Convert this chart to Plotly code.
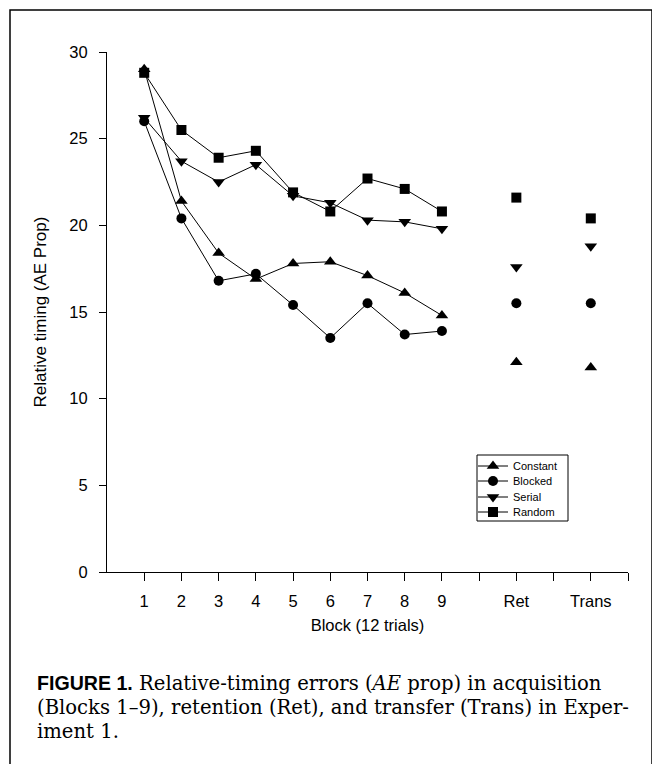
import plotly.graph_objects as go

# ---- data ----
blocks = [1, 2, 3, 4, 5, 6, 7, 8, 9]
test_labels = ["Ret", "Trans"]
test_positions = [11, 13]          # axis slots used for Ret and Trans

constant_acq = [29.0, 21.4, 18.4, 16.9, 17.8, 17.9, 17.1, 16.1, 14.8]
constant_test = [12.1, 11.8]
blocked_acq = [26.0, 20.4, 16.8, 17.2, 15.4, 13.5, 15.5, 13.7, 13.9]
blocked_test = [15.5, 15.5]
serial_acq = [26.2, 23.7, 22.5, 23.5, 21.7, 21.3, 20.3, 20.2, 19.8]
serial_test = [17.6, 18.8]
random_acq = [28.8, 25.5, 23.9, 24.3, 21.9, 20.8, 22.7, 22.1, 20.8]
random_test = [21.6, 20.4]

series_names = ["Constant", "Blocked", "Serial", "Random"]
symbols = ["triangle-up", "circle", "triangle-down", "square"]
acq_values = [constant_acq, blocked_acq, serial_acq, random_acq]
test_values = [constant_test, blocked_test, serial_test, random_test]

tick_vals = list(range(1, 15))
tick_text = [str(b) for b in blocks] + ["", test_labels[0], "", test_labels[1], ""]
y_ticks = [0, 5, 10, 15, 20, 25, 30]

# ---- geometry (page has an 8px body margin) ----
OFF = 8
W, H = 660 - OFF, 764 - OFF
L, R = 107 - OFF, 628 - OFF
T, B = 52 - OFF, 572 - OFF
pw, ph = R - L, B - T

def px(x):
    return (x - OFF - L) / pw

def py(y):
    return (B - (y - OFF)) / ph

legend_rows = [466, 481, 497, 512]
legend_keys = ["legend", "legend2", "legend3", "legend4"]

fig = go.Figure()
for i, (name, sym, acq, test) in enumerate(zip(series_names, symbols, acq_values, test_values)):
    msize = 10 if sym in ("circle", "square") else 11
    fig.add_trace(go.Scatter(
        x=blocks, y=acq, mode="lines+markers", name=name,
        line=dict(color="black", width=1),
        marker=dict(symbol=sym, size=msize, color="black"),
        legend=legend_keys[i],
    ))
    fig.add_trace(go.Scatter(
        x=test_positions, y=test, mode="markers", name=name, showlegend=False,
        marker=dict(symbol=sym, size=msize, color="black"),
    ))

legend_common = dict(
    xanchor="left", yanchor="middle", borderwidth=0,
    bgcolor="rgba(0,0,0,0)",
    font=dict(size=11, family="Liberation Sans, Arial, sans-serif", color="black"),
    itemwidth=30,
)
legend_layout = {}
for key, ry in zip(legend_keys, legend_rows):
    legend_layout[key] = dict(x=px(473), y=py(ry), **legend_common)

fig.update_layout(
    width=W, height=H,
    margin=dict(l=L, r=W - R, t=T, b=H - B),
    paper_bgcolor="white", plot_bgcolor="white",
    font=dict(family="Liberation Sans, Arial, sans-serif", size=16.5, color="black"),
    showlegend=True,
    xaxis=dict(
        range=[0, 14], tickmode="array", tickvals=tick_vals, ticktext=tick_text,
        showgrid=False, zeroline=False, showline=True, linecolor="black", linewidth=1,
        ticks="outside", ticklen=8, tickcolor="black", ticklabelstandoff=6,
        title=dict(text="Block (12 trials)", font=dict(size=16.5), standoff=10),
    ),
    yaxis=dict(
        range=[0, 30], tickmode="array", tickvals=y_ticks,
        showgrid=False, zeroline=False, showline=True, linecolor="black", linewidth=1,
        ticks="outside", ticklen=7, tickcolor="black", ticklabelstandoff=8,
        title=dict(text="Relative timing (AE Prop)", font=dict(size=17), standoff=18),
    ),
    **legend_layout,
)

# legend box
fig.add_shape(type="rect", xref="paper", yref="paper",
              x0=px(477), x1=px(568), y0=py(521), y1=py(455),
              line=dict(color="black", width=1), fillcolor="white", layer="below")

# outer frame of the figure page
fig.add_shape(type="rect", xref="paper", yref="paper",
              x0=px(10), x1=px(652), y0=py(790), y1=py(10),
              line=dict(color="black", width=1.5), fillcolor="rgba(0,0,0,0)", layer="below")

caption_lines = [
    "<span style='font-family:Liberation Sans, Arial, sans-serif'><b>FIGURE 1.</b></span> Relative-timing errors (<i>AE</i> prop) in acquisition",
    "(Blocks 1–9), retention (Ret), and transfer (Trans) in Exper-",
    "iment 1.",
]
for i, line in enumerate(caption_lines):
    fig.add_annotation(
        text=line, xref="paper", yref="paper", x=px(35), y=py(683 + 24 * i),
        xanchor="left", yanchor="middle", showarrow=False, align="left",
        font=dict(family="DejaVu Serif, serif", size=19.6, color="black"),
    )

fig.write_html("out.html")
